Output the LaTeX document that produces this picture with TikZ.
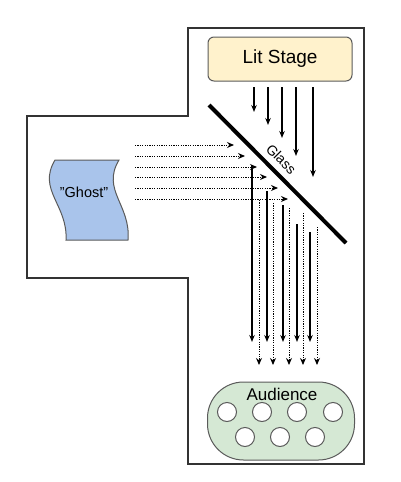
\documentclass[tikz,border=0pt]{standalone}
\usepackage{fontspec}
\setmainfont{Liberation Sans}
\usetikzlibrary{arrows.meta}
\definecolor{stageyellow}{RGB}{255,242,204}
\definecolor{ghostblue}{RGB}{169,196,235}
\definecolor{audgreen}{RGB}{213,232,212}
\definecolor{edgegray}{RGB}{90,90,90}
\begin{document}
\begin{tikzpicture}[x=1pt,y=-1pt,
	ray/.style={line width=1.2pt,-{Stealth[length=7pt,width=5.5pt]}},
	ghostray/.style={line width=1pt,dash pattern=on 1.2pt off 1.2pt,-{Stealth[open,length=7pt,width=6pt]}},
	box/.style={draw=edgegray,line width=1pt,inner sep=0pt},
	seat/.style={circle,draw=edgegray,fill=white,line width=1pt,minimum size=19pt,inner sep=0pt}]
	\useasboundingbox (0,0) rectangle (400,482);
	\def\stagey{87} % rays leave the stage here
	\def\floory{342}
	% walls of the theatre
	\draw[line width=1.3pt,draw=black!80] (188,28) -| (364,464) -| (188,278) -| (27,116) -| cycle;
	\node[box,fill=stageyellow,rounded corners=6pt,minimum width=144pt,minimum height=44pt,font=\fontsize{19}{22}\selectfont] (stage) at (280,59) {Lit Stage};
	\foreach \x/\y in {254/112,268/125,282/138,296/156,313/177}
		\draw[ray] (\x,\stagey) -- (\x,\y);
	% the ghost and its light
	\draw[draw=edgegray,fill=ghostblue,line width=1pt] (55,160) -- (119,160)
		.. controls (101,190) and (131,205) .. (128,240) -- (66,240)
		.. controls (68,205) and (37,190) .. cycle;
	\node[font=\fontsize{14.5}{17}\selectfont] (ghost) at (84,192) {"Ghost"};
	\foreach \y/\x in {145/234,156/245,167/257,177/267,188/278,199/288}
		\draw[ghostray] (135,\y) -- (\x,\y);
	\draw[line width=4pt] (209,105) -- (346,243) node[pos=.46,sloped,above,inner sep=6pt,font=\fontsize{14}{16}\selectfont] (glass) {Glass};
	% what the audience sees
	\foreach \x/\y in {252/165,267/191,283/205,297/224,310/232}
		\draw[ray] (\x,\y) -- (\x,\floory);
	\foreach \x/\y in {259/200,273/203,289/208,303/213,317/227}
		\draw[ghostray] (\x,\y) -- (\x,365);
	\node[box,fill=audgreen,rounded corners=36pt,minimum width=147pt,minimum height=78pt] (audience) at (281,421) {};
	\node[font=\fontsize{17}{20}\selectfont] (audlabel) at (282,394) {Audience};
	\foreach \x [count=\i] in {227,262,297,333}
		\node[seat] (s\i) at (\x,412) {};
	\foreach \x [count=\i from 5] in {245,280,315}
		\node[seat] (s\i) at (\x,437) {};
\end{tikzpicture}
\end{document}
